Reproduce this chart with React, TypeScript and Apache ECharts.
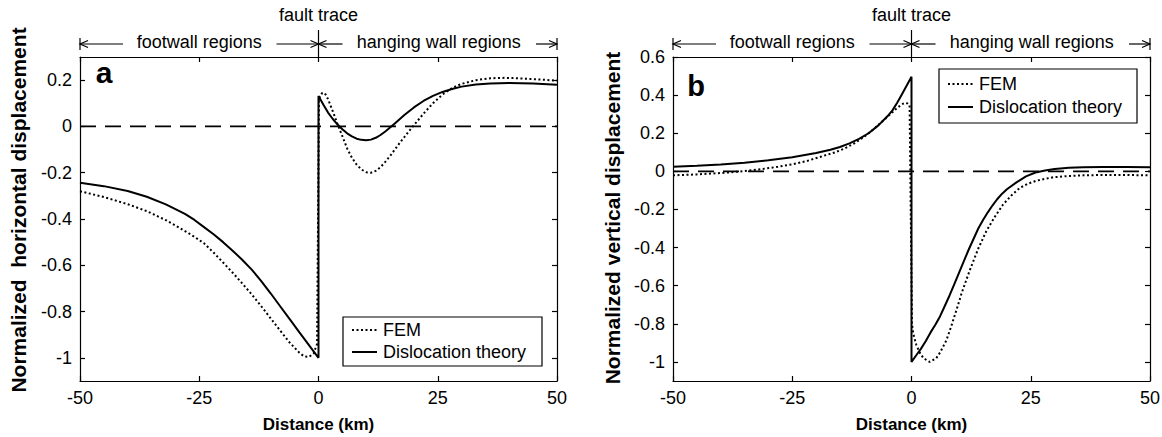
import React, { useEffect, useRef } from "react";
import * as echarts from "echarts";

// ---------- data ----------
const xTicks = [-50, -25, 0, 25, 50];
const yTicksA = [-1, -0.8, -0.6, -0.4, -0.2, 0, 0.2];
const yTicksB = [-1, -0.8, -0.6, -0.4, -0.2, 0, 0.2, 0.4, 0.6];
const legendNames = ["FEM", "Dislocation theory"];

// panel a: normalized horizontal displacement
const femA: [number, number][] = [
  [-50, -0.28], [-45, -0.305], [-40, -0.336], [-36, -0.366], [-32, -0.405], [-28, -0.452],
  [-26, -0.477], [-24, -0.505], [-22, -0.545], [-20, -0.588], [-18, -0.632], [-16, -0.678],
  [-14, -0.726], [-12, -0.777], [-10, -0.83], [-8, -0.883], [-6, -0.935], [-4, -0.978],
  [-3, -0.994], [-2, -0.996], [-1, -0.98], [-0.3, -0.94],
  [0.1, 0.12], [0.7, 0.143], [1.3, 0.145], [2, 0.118], [3, 0.065], [4, 0.01], [5, -0.042],
  [6, -0.095], [7, -0.135], [8, -0.165], [9, -0.186], [10, -0.198], [11, -0.2], [12, -0.192],
  [13, -0.176], [14, -0.153], [15, -0.128], [16, -0.1], [17, -0.072], [18, -0.046],
  [19, -0.02], [20, 0.005], [22, 0.055], [24, 0.1], [26, 0.138], [28, 0.166], [30, 0.184],
  [33, 0.2], [36, 0.208], [39, 0.21], [42, 0.208], [46, 0.203], [50, 0.198],
];
const dislocA: [number, number][] = [
  [-50, -0.243], [-45, -0.258], [-40, -0.279], [-36, -0.304], [-32, -0.337], [-28, -0.378],
  [-26, -0.404], [-24, -0.435], [-22, -0.466], [-20, -0.5], [-18, -0.537], [-16, -0.576],
  [-14, -0.619], [-12, -0.668], [-10, -0.722], [-8, -0.778], [-6, -0.834], [-4, -0.89],
  [-2, -0.945], [0, -1.0],
  [0, 0.131], [1, 0.095], [2, 0.06], [3, 0.032], [4, 0.008], [5, -0.012], [6, -0.03],
  [7, -0.043], [8, -0.053], [9, -0.058], [10, -0.06], [11, -0.057], [12, -0.049],
  [13, -0.037], [14, -0.022], [15, -0.005], [16, 0.013], [18, 0.049], [20, 0.082],
  [22, 0.11], [24, 0.132], [26, 0.149], [28, 0.162], [30, 0.172], [33, 0.181], [36, 0.186],
  [40, 0.188], [45, 0.185], [50, 0.18],
];

// panel b: normalized vertical displacement
const femB: [number, number][] = [
  [-50, -0.021], [-45, -0.016], [-40, -0.009], [-36, -0.001], [-32, 0.01], [-28, 0.024],
  [-25, 0.037], [-22, 0.054], [-19, 0.077], [-16, 0.1], [-14, 0.12], [-12, 0.147],
  [-10, 0.18], [-8, 0.22], [-6, 0.265], [-4, 0.31], [-3, 0.333], [-2, 0.352], [-1.4, 0.36],
  [-0.8, 0.356], [-0.4, 0.348],
  [0.1, -0.8], [0.35, -0.85], [1, -0.91], [1.7, -0.95], [2.5, -0.98], [3.8, -1.0], [5.2, -0.98],
  [6, -0.95], [7.3, -0.887], [8.3, -0.815], [9.4, -0.73], [10.5, -0.64], [12.2, -0.52],
  [14, -0.405], [15.7, -0.313], [17.5, -0.237], [19.2, -0.174], [21, -0.125], [22.7, -0.087],
  [24.5, -0.064], [26.2, -0.049], [28, -0.039], [29.7, -0.031], [33.2, -0.024], [36, -0.021],
  [40, -0.019], [45, -0.019], [50, -0.021],
];
const dislocB: [number, number][] = [
  [-50, 0.024], [-45, 0.029], [-40, 0.036], [-35, 0.045], [-30, 0.058], [-25, 0.074],
  [-20, 0.096], [-17, 0.113], [-15, 0.128], [-13, 0.147], [-11, 0.17], [-9, 0.2], [-7, 0.24],
  [-5, 0.29], [-4, 0.32], [-3, 0.36], [-2, 0.405], [-1, 0.45], [0, 0.496],
  [0, -1.0], [1, -0.965], [2, -0.93], [3, -0.89], [4, -0.845], [5, -0.805], [6, -0.76],
  [7, -0.705], [8, -0.65], [9, -0.59], [10, -0.53], [11, -0.47], [12, -0.41], [13, -0.355],
  [14, -0.3], [15, -0.255], [16, -0.215], [17, -0.178], [18, -0.145], [19, -0.117],
  [20, -0.094], [22, -0.058], [24, -0.026], [26, -0.006], [28, 0.004], [30, 0.012],
  [33, 0.019], [36, 0.022], [40, 0.023], [45, 0.023], [50, 0.022],
];
const zeroLine: [number, number][] = [[-50, 0], [50, 0]];

// ---------- layout / style ----------
const FONT = "'Liberation Sans', Arial, Helvetica, sans-serif";
const GRID_A = { left: 80, top: 57, width: 477, height: 324 };
const GRID_B = { left: 673, top: 57, width: 477, height: 324 };
const DOT: number[] = [2, 2.5];

const fmt = (v: number) => String(Math.round(v * 10) / 10);

function xAxes(gridIndex: number) {
  const common = {
    gridIndex,
    type: "value",
    min: -50,
    max: 50,
    interval: 25,
    splitLine: { show: false },
    axisLine: { show: true, onZero: false, lineStyle: { color: "#000", width: 1.2 } },
    axisTick: { show: true, inside: true, length: 5, lineStyle: { color: "#000", width: 1.2 } },
  };
  return [
    {
      ...common,
      position: "bottom",
      axisLabel: { show: true, color: "#000", fontSize: 18, fontFamily: FONT, margin: 8, customValues: xTicks },
      name: "Distance (km)",
      nameLocation: "middle",
      nameGap: 35,
      nameTextStyle: { fontWeight: "bold", fontSize: 17, color: "#000", fontFamily: FONT },
    },
    { ...common, position: "top", axisLabel: { show: false } },
  ];
}

function yAxes(gridIndex: number, min: number, max: number, ticks: number[]) {
  const common = {
    gridIndex,
    type: "value",
    min,
    max,
    splitLine: { show: false },
    axisLine: { show: true, onZero: false, lineStyle: { color: "#000", width: 1.2 } },
    axisTick: { show: true, inside: true, length: 5, customValues: ticks, lineStyle: { color: "#000", width: 1.2 } },
  };
  return [
    {
      ...common,
      position: "left",
      axisLabel: { show: true, color: "#000", fontSize: 18, fontFamily: FONT, margin: 8, customValues: ticks, formatter: fmt },
    },
    { ...common, position: "right", axisLabel: { show: false } },
  ];
}

function lineSeries(name: string, data: [number, number][], axis: number, dotted: boolean) {
  return {
    type: "line",
    name,
    xAxisIndex: axis,
    yAxisIndex: axis,
    data,
    symbol: "none",
    showSymbol: false,
    silent: true,
    z: 3,
    itemStyle: { color: "#000" },
    lineStyle: { color: "#000", width: 2, type: dotted ? DOT : "solid", cap: "butt" },
  };
}

function zeroSeries(axis: number) {
  return {
    type: "line",
    name: "zero",
    xAxisIndex: axis,
    yAxisIndex: axis,
    data: zeroLine,
    symbol: "none",
    silent: true,
    z: 2,
    lineStyle: { color: "#000", width: 1.8, type: [16, 9] },
  };
}

function arrowHead(x: number, y: number, dir: number) {
  return {
    type: "polyline",
    silent: true,
    shape: { points: [[x - dir * 8, y - 3.5], [x, y], [x - dir * 8, y + 3.5]] },
    style: { stroke: "#000", lineWidth: 1.2, fill: null },
  };
}
function seg(x1: number, y1: number, x2: number, y2: number, width = 1.2, dash?: number[]) {
  return {
    type: "line",
    silent: true,
    z: 10,
    shape: { x1, y1, x2, y2 },
    style: { stroke: "#000", lineWidth: width, lineDash: dash || null },
  };
}
function label(text: string, x: number, y: number, size: number, bold = false, rotation = 0, align = "center") {
  return {
    type: "text",
    silent: true,
    z: 10,
    x,
    y,
    rotation,
    style: {
      text,
      fill: "#000",
      font: `${bold ? "bold " : ""}${size}px ${FONT}`,
      align,
      verticalAlign: "middle",
    },
  };
}

function header(g: { left: number; width: number; top: number }) {
  const L = g.left;
  const R = g.left + g.width;
  const Z = g.left + g.width / 2;
  const ya = 44;
  return [
    label("fault trace", Z, 15, 18),
    label("footwall regions", (L + Z) / 2, 42, 18),
    label("hanging wall regions", (Z + R) / 2 + 1, 42, 18),
    seg(Z, 30, Z, g.top),
    seg(L, ya - 6, L, ya + 6),
    seg(R, ya - 6, R, ya + 6),
    seg(L, ya, L + 43, ya),
    arrowHead(L, ya, -1),
    seg(Z - 42, ya, Z, ya),
    arrowHead(Z, ya, 1),
    seg(Z, ya, Z + 24, ya),
    arrowHead(Z, ya, -1),
    seg(R - 21, ya, R, ya),
    arrowHead(R, ya, 1),
  ];
}

function legendBox(x: number, y: number, w: number, h: number, row1: number, row2: number) {
  return [
    {
      type: "rect",
      silent: true,
      z: 9,
      shape: { x, y, width: w, height: h },
      style: { fill: "#fff", stroke: "#000", lineWidth: 1.2 },
    },
    seg(x + 9, row1, x + 34, row1, 2, DOT),
    seg(x + 9, row2, x + 34, row2, 2),
    label(legendNames[0], x + 40, row1, 18, false, 0, "left"),
    label(legendNames[1], x + 40, row2, 18, false, 0, "left"),
  ];
}

export default function App() {
  const ref = useRef<HTMLDivElement>(null);
  useEffect(() => {
    if (!ref.current) return;
    const chart = echarts.init(ref.current, undefined, { renderer: "svg" });
    const option: any = {
      animation: false,
      backgroundColor: "#fff",
      textStyle: { fontFamily: FONT },
      grid: [
        { ...GRID_A, containLabel: false, outerBoundsMode: "none" },
        { ...GRID_B, containLabel: false, outerBoundsMode: "none" },
      ],
      xAxis: [...xAxes(0), ...xAxes(1)],
      yAxis: [...yAxes(0, -1.1, 0.3, yTicksA), ...yAxes(1, -1.1, 0.6, yTicksB)],
      series: [
        zeroSeries(0),
        lineSeries("FEM", femA, 0, true),
        lineSeries("Dislocation theory", dislocA, 0, false),
        zeroSeries(2),
        lineSeries("FEM", femB, 2, true),
        lineSeries("Dislocation theory", dislocB, 2, false),
      ],
      graphic: [
        ...header(GRID_A),
        ...header(GRID_B),
        ...legendBox(343, 317, 199, 49, 330, 352),
        ...legendBox(939, 69, 198, 54, 84, 107),
        label("a", 104, 72, 30, true),
        label("b", 696, 86, 29, true),
        label("Normalized  horizontal displacement", 18, 210, 21, true, Math.PI / 2),
        label("Normalized vertical displacement", 612, 218, 21, true, Math.PI / 2),
      ],
    };
    chart.setOption(option);
    return () => chart.dispose();
  }, []);
  return <div ref={ref} style={{ position: "fixed", left: 0, top: 0, width: 1162, height: 437 }} />;
}
